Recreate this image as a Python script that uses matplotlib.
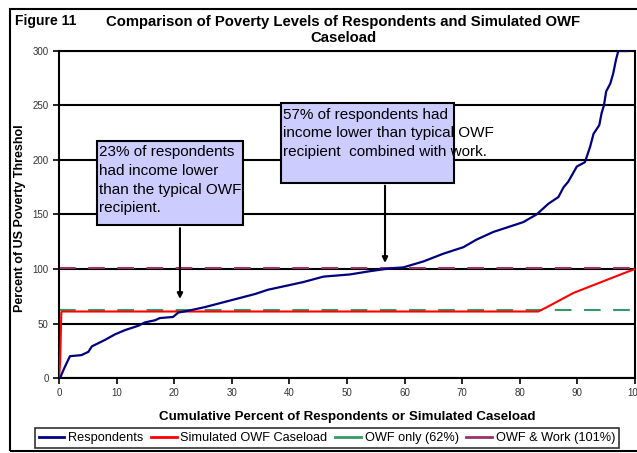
import matplotlib
matplotlib.use("Agg")
import matplotlib.pyplot as plt
from matplotlib.patches import Rectangle
from matplotlib.lines import Line2D
from matplotlib.transforms import Bbox

plt.rcParams['font.family'] = ['Liberation Sans', 'DejaVu Sans']

# Respondents: cumulative percent vs percent of poverty threshold
resp_x = [0.2, 0.5, 1.0, 1.9, 3.9, 5.1, 5.7, 8.0, 9.7, 11.5, 13.8, 14.9, 16.7, 17.5,
          19.8, 20.7, 22.7, 25.3, 28.2, 31.1, 34.0, 36.3, 39.8, 42.4, 45.9, 50.5,
          54.0, 57.5, 59.8, 63.3, 66.7, 70.2, 72.5, 75.4, 78.3, 80.6, 82.9, 85.0,
          86.7, 87.6, 88.4, 89.9, 91.3, 92.2, 92.8, 93.8, 94.2, 94.6, 95.0, 95.7,
          96.2, 96.7, 97.1, 98.7]
resp_y = [0, 4, 10, 20, 21, 24, 29, 35, 40, 44, 48, 51, 53, 55,
          56, 60, 62, 65, 69, 73, 77, 81, 85, 88, 93, 95,
          98, 100.6, 101.5, 107, 114, 120, 127, 134, 139, 143, 150, 160,
          166, 175, 180, 194, 198, 212, 224, 232, 243, 250, 263, 270,
          279, 292, 300, 300]

# Simulated OWF caseload
sim_x = [0, 0.2, 0.4, 0.5, 83.2, 84.7, 87.0, 89.3, 92.2, 95.1, 98.0, 100]
sim_y = [0, 15, 60, 61, 61, 65, 71.5, 78, 84, 90, 96, 100]

owf_only = 62
owf_work = 101

series_names = ['Respondents', 'Simulated OWF Caseload', 'OWF only (62%)', 'OWF & Work (101%)']
series_colors = ['#000080', 'red', '#339966', '#993366']

fig = plt.figure(figsize=(6.37, 4.53), dpi=100)
ax = fig.add_axes([59/637, 75/453, 576/637, 327/453])

ax.set_xlim(0, 100)
ax.set_ylim(0, 300)
ax.set_yticks(range(0, 301, 50))
ax.set_xticks(range(0, 101, 10))
ax.tick_params(labelsize=7, length=4, width=1.2, colors='black', labelcolor='#333333')
for s in ['left', 'bottom', 'top', 'right']:
    ax.spines[s].set_linewidth(1.5)
ax.yaxis.grid(True, color='black', linewidth=1.5)
ax.set_axisbelow(True)

ax.axhline(owf_only, color=series_colors[2], linewidth=1.5, dashes=(8, 6), zorder=2)
ax.axhline(owf_work, color=series_colors[3], linewidth=1.5, dashes=(8, 6), zorder=2)
ax.plot(resp_x, resp_y, color=series_colors[0], linewidth=1.6, zorder=4)
ax.plot(sim_x, sim_y, color=series_colors[1], linewidth=1.5, zorder=3)

# annotation boxes
box_fc = '#CCCCFF'
ax.add_patch(Rectangle((6.6, 140), 25.3, 77, facecolor=box_fc, edgecolor='black', linewidth=1.5, zorder=5))
ax.text(7.0, 213.5, '23% of respondents\nhad income lower\nthan the typical OWF\nrecipient.',
        fontsize=11, va='top', ha='left', linespacing=1.42, zorder=6)
ax.add_patch(Rectangle((38.5, 179), 30.1, 73, facecolor=box_fc, edgecolor='black', linewidth=1.5, zorder=5))
ax.text(38.9, 248, '57% of respondents had\nincome lower than typical OWF\nrecipient  combined with work.',
        fontsize=11, va='top', ha='left', linespacing=1.42, zorder=6)
ax.annotate('', xy=(21, 70), xytext=(21, 140),
            arrowprops=dict(arrowstyle='-|>', color='black', lw=1.5, mutation_scale=8), zorder=6)
ax.annotate('', xy=(56.6, 103), xytext=(56.6, 179),
            arrowprops=dict(arrowstyle='-|>', color='black', lw=1.5, mutation_scale=8), zorder=6)

ax.set_xlabel('Cumulative Percent of Respondents or Simulated Caseload',
              fontsize=9.6, fontweight='bold', labelpad=9)

# y label is cut off at the top in the original
yl = fig.text(20/637, 1 - 312/453, 'Percent of US Poverty Threshold', rotation=90,
              fontsize=9, fontweight='bold', ha='center', va='bottom')
yl.set_clip_box(Bbox.from_extents(0, 0, 637, 453 - 126))
yl.set_clip_on(True)

fig.text(15/637, 1 - 21/453, 'Figure 11', fontsize=10, fontweight='bold', ha='left', va='center')
fig.text(343/637, 1 - 30/453, 'Comparison of Poverty Levels of Respondents and Simulated OWF\nCaseload',
         fontsize=10.7, fontweight='bold', ha='center', va='center', linespacing=1.2)

# outer frame
fig.patches.append(Rectangle((10/637, 2/453), 1.0, 442/453, transform=fig.transFigure,
                             fill=False, edgecolor='black', linewidth=1.5))

handles = [Line2D([], [], color=c, linewidth=2) for c in series_colors]
leg = fig.legend(handles, series_names,
                 loc='center', bbox_to_anchor=(327/637, 1 - 438/453), ncol=4,
                 fontsize=9.2, frameon=True, fancybox=False, handlelength=2.0,
                 handletextpad=0.3, columnspacing=0.6, borderpad=0.3)
leg.get_frame().set_edgecolor('black')
leg.get_frame().set_linewidth(1.2)

fig.savefig('out.png', dpi=100)
